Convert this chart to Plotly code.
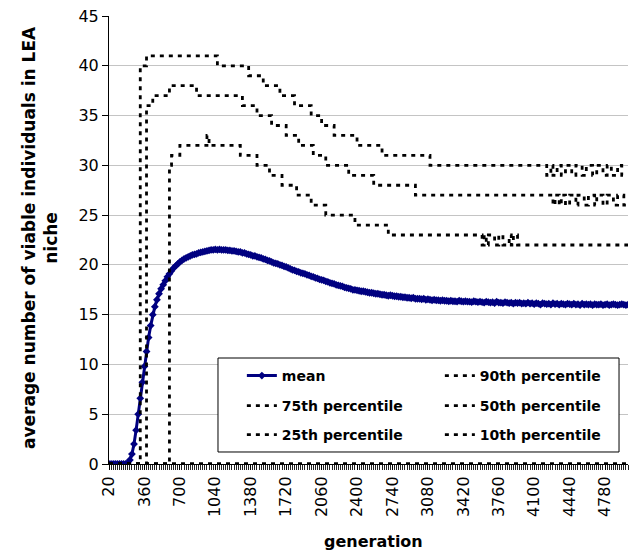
import plotly.graph_objects as go

# ---------------- data ----------------
generations = list(range(20, 5001, 20))

mean_vals = [
    0, 0, 0, 0, 0, 0, 0, 0, 0, 0.1,
    0.4, 1.0, 2.0, 3.4, 5.0, 6.6, 8.2, 9.8, 11.3, 12.7,
    13.9, 15.0, 15.8, 16.5, 17.1, 17.6, 18.0, 18.4, 18.8, 19.1,
    19.4, 19.7, 19.9, 20.1, 20.3, 20.45, 20.6, 20.7, 20.8, 20.9,
    21.0, 21.05, 21.1, 21.2, 21.25, 21.3, 21.35, 21.4, 21.45, 21.5,
    21.5, 21.55, 21.5, 21.55, 21.5, 21.5, 21.5, 21.45, 21.45, 21.4,
    21.4, 21.35, 21.3, 21.3, 21.2, 21.2, 21.1, 21.05, 21.0, 20.9,
    20.9, 20.8, 20.75, 20.7, 20.6, 20.55, 20.45, 20.4, 20.3, 20.2,
    20.15, 20.1, 20.0, 19.95, 19.85, 19.8, 19.7, 19.6, 19.5, 19.45,
    19.35, 19.3, 19.2, 19.15, 19.1, 19.0, 18.95, 18.85, 18.8, 18.7,
    18.65, 18.55, 18.5, 18.45, 18.35, 18.3, 18.2, 18.15, 18.1, 18.0,
    17.95, 17.9, 17.85, 17.75, 17.7, 17.65, 17.6, 17.5, 17.5, 17.45,
    17.4, 17.35, 17.35, 17.3, 17.25, 17.2, 17.2, 17.15, 17.1, 17.1,
    17.05, 17.0, 17.0, 16.95, 16.9, 16.95, 16.9, 16.85, 16.85, 16.8,
    16.8, 16.75, 16.75, 16.7, 16.7, 16.65, 16.7, 16.6, 16.6, 16.6,
    16.55, 16.6, 16.5, 16.55, 16.5, 16.45, 16.5, 16.45, 16.45, 16.4,
    16.45, 16.4, 16.4, 16.35, 16.4, 16.35, 16.35, 16.3, 16.4, 16.35,
    16.3, 16.35, 16.3, 16.3, 16.25, 16.35, 16.3, 16.25, 16.3, 16.25,
    16.2, 16.3, 16.25, 16.2, 16.25, 16.15, 16.3, 16.2, 16.2, 16.15,
    16.25, 16.2, 16.15, 16.2, 16.1, 16.2, 16.15, 16.2, 16.1, 16.15,
    16.1, 16.2, 16.1, 16.15, 16.05, 16.15, 16.1, 16.0, 16.15, 16.1,
    16.05, 16.1, 16.0, 16.15, 16.05, 16.1, 16.0, 16.1, 16.05, 16.0,
    16.1, 16.05, 16.0, 16.1, 16.0, 16.05, 15.95, 16.1, 16.0, 16.05,
    16.0, 16.05, 15.95, 16.05, 16.0, 16.0, 16.05, 15.95, 16.0, 16.05,
    15.95, 16.0, 16.05, 16.0, 15.95, 16.0, 16.05, 16.0, 15.95, 16.0,
]

# percentile series as step change points (generation, value)
p90_gen = [20, 320, 380, 1060, 1360, 1500, 1660, 1800, 1960, 2060, 2180, 2400,
           2640, 3100, 4220, 4260, 4280, 4320, 4360, 4400, 4460, 4500, 4560,
           4600, 4660, 4700, 4760, 4800, 4840, 4900, 4940, 5000]
p90_val = [0, 40, 41, 40, 39, 38, 37, 36, 35, 34, 33, 32,
           31, 30, 29, 30, 29, 30, 29, 30, 29, 30, 29,
           30, 29, 30, 29, 30, 29, 30, 29, 29]

p75_gen = [20, 380, 440, 600, 860, 1300, 1440, 1580, 1720, 1840, 1980, 2100,
           2320, 2560, 2960, 4280, 4300, 4340, 4360, 4400, 4440, 4500, 4520,
           4580, 4620, 4680, 4700, 4760, 4800, 4860, 4900, 4960, 5000]
p75_val = [0, 36, 37, 38, 37, 36, 35, 34, 33, 32, 31, 30,
           29, 28, 27, 26, 27, 26, 27, 26, 27, 26, 27,
           26, 27, 26, 27, 26, 27, 26, 27, 26, 26]

p50_gen = [20, 600, 620, 700, 960, 980, 1280, 1440, 1560, 1680, 1820, 1960,
           2100, 2380, 2700, 3600, 3620, 3640, 3660, 3720, 3760, 3800, 3860,
           3880, 3900, 3940, 5000]
p50_val = [0, 30, 31, 32, 33, 32, 31, 30, 29, 28, 27, 26,
           25, 24, 23, 22, 23, 22, 23, 22, 23, 22, 23,
           22, 23, 22, 22]

p25_gen = [20, 5000]
p25_val = [0, 0]

p10_gen = [20, 5000]
p10_val = [0, 0]

y_tick_vals = [0, 5, 10, 15, 20, 25, 30, 35, 40, 45]

# ---------------- figure ----------------
FONT = "DejaVu Sans"
fig = go.Figure()

fig.add_trace(go.Scatter(
    x=generations, y=mean_vals, name="mean", mode="lines+markers",
    line=dict(color="#000080", width=3),
    marker=dict(symbol="diamond", size=6, color="#000080"),
    legend="legend",
))

series = [
    ("90th percentile", p90_gen, p90_val, "legend"),
    ("75th percentile", p75_gen, p75_val, "legend2"),
    ("50th percentile", p50_gen, p50_val, "legend2"),
    ("25th percentile", p25_gen, p25_val, "legend3"),
    ("10th percentile", p10_gen, p10_val, "legend3"),
]
for name, gx, gy, leg in series:
    fig.add_trace(go.Scatter(
        x=gx, y=gy, name=name, mode="lines",
        line=dict(color="black", width=2.8, dash="4px,5px", shape="hv"),
        legend=leg,
    ))

leg_font = dict(family=FONT, size=14, color="black", weight="bold")
def leg(ypos):
    return dict(orientation="h", xanchor="left", yanchor="middle",
                x=0.256, y=ypos, bgcolor="rgba(0,0,0,0)", borderwidth=0,
                font=leg_font, entrywidth=153, entrywidthmode="pixels",
                itemwidth=30)

fig.update_layout(
    width=629, height=552,
    margin=dict(l=109, r=1, t=16, b=88, autoexpand=False),
    paper_bgcolor="white", plot_bgcolor="white",
    font=dict(family=FONT, size=16, color="black"),
    showlegend=True,
    xaxis=dict(
        range=[20, 5000], tickmode="linear", tick0=20, dtick=340,
        tickangle=-90, ticks="outside", ticklen=5, tickcolor="black",
        showline=True, linecolor="black", linewidth=1,
        showgrid=False, zeroline=False, automargin=False,
        tickfont=dict(family=FONT, size=16, color="black"),
        minor=dict(ticks="outside", tick0=20, dtick=20, ticklen=5,
                   tickcolor="#222222", showgrid=False),
    ),
    yaxis=dict(
        range=[0, 45], tickmode="array", tickvals=y_tick_vals,
        ticks="outside", ticklen=6, tickcolor="black",
        showline=True, linecolor="black", linewidth=1, automargin=False,
        showgrid=True, gridcolor="#c4c4c4", gridwidth=1, zeroline=False,
        tickfont=dict(family=FONT, size=16, color="black"),
    ),
    legend=leg(0.1964),
    legend2=leg(0.1295),
    legend3=leg(0.0647),
    shapes=[dict(type="rect", xref="paper", yref="paper",
                 x0=0.2100, x1=0.9827, y0=0.0268, y1=0.2366,
                 line=dict(color="black", width=1), fillcolor="white",
                 layer="above")],
    annotations=[
        dict(text="average number of viable individuals in LEA<br>niche",
             textangle=-90, xref="paper", yref="paper", x=0, y=0.5,
             xanchor="center", yanchor="middle", xshift=-69, yshift=2,
             showarrow=False,
             font=dict(family=FONT, size=17, color="black", weight="bold")),
        dict(text="generation", xref="paper", yref="paper", x=0.5, y=0,
             xanchor="center", yanchor="middle", xshift=5, yshift=-77,
             showarrow=False,
             font=dict(family=FONT, size=16, color="black", weight="bold")),
    ],
)

fig.write_html("out.html")
